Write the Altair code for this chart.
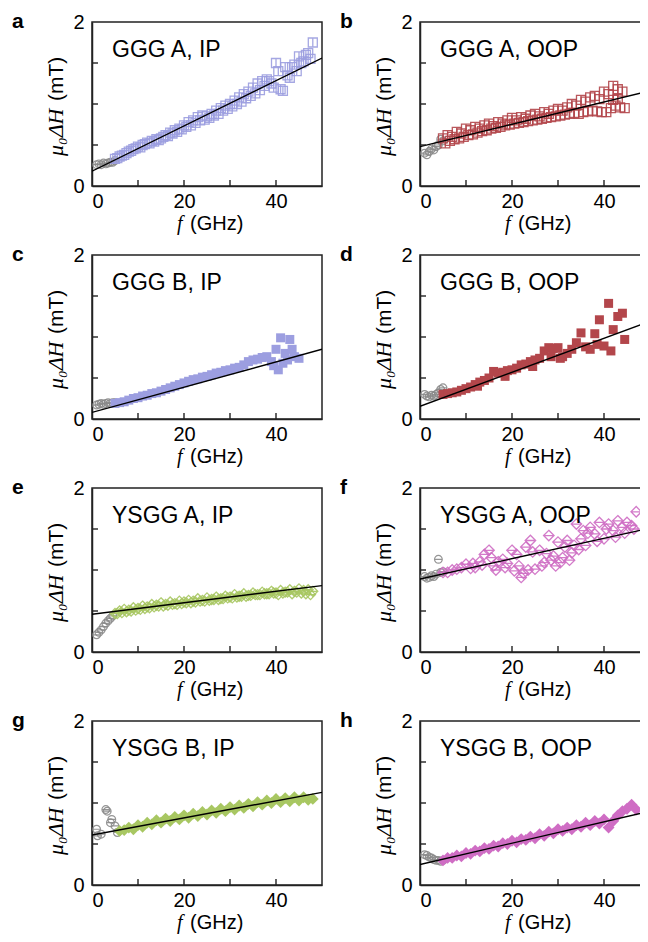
import altair as alt
import pandas as pd

# ---------------- axis tick values ----------------
X_LABELS = [0, 20, 40]
Y_LABELS = [0, 1, 2]
X_TICKS = [10, 20, 30, 40]
Y_TICKS = [0.5, 1.0, 1.5]

# ---------------- panel a : GGG A, IP ----------------
a_gray_f = [1, 1.5, 2, 2.5, 3, 3.5, 4, 4.5, 5]
a_gray_y = [0.26, 0.27, 0.26, 0.28, 0.27, 0.28, 0.29, 0.29, 0.31]
a_f = [5, 5.5, 6, 6.5, 7, 7.5, 8, 8.5, 9, 9.5, 10, 10.5, 11, 11.5, 12, 12.5, 13, 13.5, 14, 14.5,
       15, 15.5, 16, 16.5, 17, 17.5, 18, 18.5, 19, 19.5, 20, 20.5, 21, 21.5, 22, 22.5, 23, 23.5,
       24, 24.5, 25, 25.5, 26, 26.5, 27, 27.5, 28, 28.5, 29, 29.5, 30, 30.5, 31, 31.5, 32, 32.5,
       33, 33.5, 34, 34.5, 35, 35.5, 36, 36.5, 37, 37.5, 38, 38.5, 39, 39.5, 40, 40.5, 41, 41.5,
       42, 42.5, 43, 43.5, 44, 44.5, 45, 45.5, 46, 46.5, 47, 47.5, 48]
a_y = [0.33, 0.34, 0.36, 0.37, 0.38, 0.40, 0.42, 0.43, 0.45, 0.46, 0.48, 0.47, 0.50, 0.51, 0.53, 0.52,
       0.55, 0.54, 0.57, 0.56, 0.58, 0.60, 0.62, 0.61, 0.65, 0.64, 0.68, 0.66, 0.70, 0.69, 0.74, 0.72,
       0.78, 0.74, 0.80, 0.77, 0.84, 0.80, 0.86, 0.81, 0.85, 0.83, 0.88, 0.86, 0.92, 0.88, 0.95, 0.92,
       0.98, 0.94, 1.00, 0.97, 1.04, 1.00, 1.08, 1.03, 1.12, 1.07, 1.15, 1.10, 1.20, 1.13, 1.25, 1.17,
       1.28, 1.22, 1.30, 1.28, 1.25, 1.20, 1.50, 1.40, 1.18, 1.16, 1.45, 1.35, 1.32, 1.45, 1.48, 1.40,
       1.58, 1.50, 1.52, 1.60, 1.62, 1.55, 1.75]
a_fit_f = [0, 50]
a_fit_y = [0.18, 1.56]

# ---------------- panel b : GGG A, OOP ----------------
b_gray_f = [1, 1.5, 2, 2.5, 3, 3.5, 4, 4.5, 5]
b_gray_y = [0.40, 0.38, 0.42, 0.45, 0.44, 0.48, 0.50, 0.57, 0.55]
b_f = [5, 5.5, 6, 6.5, 7, 7.5, 8, 8.5, 9, 9.5, 10, 10.5, 11, 11.5, 12, 12.5, 13, 13.5, 14, 14.5,
       15, 15.5, 16, 16.5, 17, 17.5, 18, 18.5, 19, 19.5, 20, 20.5, 21, 21.5, 22, 22.5, 23, 23.5,
       24, 24.5, 25, 25.5, 26, 26.5, 27, 27.5, 28, 28.5, 29, 29.5, 30, 30.5, 31, 31.5, 32, 32.5,
       33, 33.5, 34, 34.5, 35, 35.5, 36, 36.5, 37, 37.5, 38, 38.5, 39, 39.5, 40, 40.5, 41, 41.5,
       42, 42.5, 43, 43.5, 44, 44.5, 42, 43]
b_y = [0.58, 0.52, 0.62, 0.55, 0.60, 0.57, 0.66, 0.58, 0.64, 0.60, 0.70, 0.62, 0.68, 0.63, 0.72, 0.65,
       0.70, 0.67, 0.74, 0.68, 0.76, 0.70, 0.73, 0.71, 0.78, 0.72, 0.76, 0.74, 0.80, 0.75, 0.83, 0.76,
       0.80, 0.77, 0.84, 0.78, 0.82, 0.79, 0.86, 0.80, 0.88, 0.81, 0.85, 0.82, 0.90, 0.83, 0.88, 0.84,
       0.92, 0.85, 0.94, 0.86, 0.92, 0.87, 0.96, 0.88, 1.00, 0.89, 0.98, 0.88, 1.05, 0.90, 1.03, 0.91,
       1.08, 0.92, 1.10, 0.91, 1.06, 0.90, 1.15, 0.90, 1.12, 0.95, 1.22, 0.98, 1.18, 0.96, 1.15, 0.95,
       1.05, 1.06]
b_fit_f = [0, 50]
b_fit_y = [0.48, 1.16]

# ---------------- panel c : GGG B, IP ----------------
c_gray_f = [1, 1.5, 2, 2.5, 3, 3.5, 4, 4.5, 5]
c_gray_y = [0.17, 0.18, 0.19, 0.18, 0.19, 0.20, 0.19, 0.20, 0.20]
c_f = [5, 6, 7, 8, 9, 10, 11, 12, 13, 14, 15, 16, 17, 18, 19, 20, 21, 22, 23, 24, 25, 26, 27, 28,
       29, 30, 31, 32, 33, 34, 35, 36, 37, 38, 39, 39.5, 40, 40.5, 41, 41.5, 42, 42.5, 43, 43.5, 44, 45]
c_y = [0.19, 0.20, 0.21, 0.23, 0.25, 0.26, 0.28, 0.29, 0.31, 0.32, 0.34, 0.36, 0.38, 0.40, 0.42, 0.44,
       0.46, 0.48, 0.49, 0.51, 0.52, 0.54, 0.56, 0.57, 0.59, 0.60, 0.62, 0.63, 0.66, 0.70, 0.72, 0.73,
       0.75, 0.76, 0.70, 0.65, 0.85, 0.60, 0.99, 0.68, 0.80, 0.72, 0.97, 0.85, 0.76, 0.74]
c_fit_f = [0, 50]
c_fit_y = [0.08, 0.85]

# ---------------- panel d : GGG B, OOP ----------------
d_gray_f = [1, 1.5, 2, 2.5, 3, 3.5, 4, 4.5, 5]
d_gray_y = [0.30, 0.28, 0.27, 0.29, 0.28, 0.30, 0.32, 0.36, 0.38]
d_f = [5, 6, 7, 8, 9, 10, 11, 12, 12.5, 13, 14, 15, 16, 17, 18, 18.5, 19, 20, 21, 22, 23, 24, 24.5,
       25, 26, 27, 28, 28.5, 29, 30, 30.5, 31, 32, 33, 34, 35, 36, 37, 38, 38.5, 39, 40, 41, 41.5,
       42, 43, 44, 44.5]
d_y = [0.30, 0.31, 0.32, 0.33, 0.35, 0.37, 0.39, 0.42, 0.40, 0.45, 0.47, 0.50, 0.58, 0.56, 0.57, 0.52,
       0.59, 0.60, 0.62, 0.66, 0.67, 0.70, 0.64, 0.72, 0.74, 0.83, 0.87, 0.76, 0.86, 0.87, 0.74, 0.76,
       0.80, 0.85, 0.93, 1.05, 0.88, 0.85, 1.04, 0.91, 1.21, 0.89, 1.41, 0.83, 1.09, 1.25, 1.29, 0.97]
d_fit_f = [0, 50]
d_fit_y = [0.155, 1.19]

# ---------------- panel e : YSGG A, IP ----------------
e_gray_f = [1, 1.5, 2, 2.5, 3, 3.5, 4, 4.5]
e_gray_y = [0.21, 0.24, 0.27, 0.31, 0.35, 0.38, 0.41, 0.44]
e_f = [5, 5.5, 6, 6.5, 7, 7.5, 8, 8.5, 9, 9.5, 10, 10.5, 11, 11.5, 12, 12.5, 13, 13.5, 14, 14.5,
       15, 15.5, 16, 16.5, 17, 17.5, 18, 18.5, 19, 19.5, 20, 20.5, 21, 21.5, 22, 22.5, 23, 23.5,
       24, 24.5, 25, 25.5, 26, 26.5, 27, 27.5, 28, 28.5, 29, 29.5, 30, 30.5, 31, 31.5, 32, 32.5,
       33, 33.5, 34, 34.5, 35, 35.5, 36, 36.5, 37, 37.5, 38, 38.5, 39, 39.5, 40, 40.5, 41, 41.5,
       42, 42.5, 43, 43.5, 44, 44.5, 45, 45.5, 46, 46.5, 47, 47.5, 48]
e_y = [0.47, 0.47, 0.50, 0.48, 0.52, 0.49, 0.51, 0.50, 0.54, 0.51, 0.53, 0.52, 0.56, 0.53, 0.55, 0.54,
       0.58, 0.55, 0.57, 0.56, 0.60, 0.56, 0.58, 0.57, 0.61, 0.58, 0.59, 0.58, 0.62, 0.59, 0.61, 0.60,
       0.63, 0.60, 0.62, 0.61, 0.65, 0.62, 0.63, 0.62, 0.66, 0.63, 0.64, 0.64, 0.67, 0.64, 0.65, 0.65,
       0.68, 0.66, 0.67, 0.66, 0.70, 0.67, 0.68, 0.68, 0.71, 0.68, 0.69, 0.69, 0.72, 0.70, 0.70, 0.70,
       0.73, 0.71, 0.71, 0.71, 0.74, 0.72, 0.72, 0.70, 0.75, 0.72, 0.73, 0.73, 0.76, 0.71, 0.74, 0.73,
       0.77, 0.72, 0.75, 0.71, 0.76, 0.70, 0.74]
e_fit_f = [0, 50]
e_fit_y = [0.46, 0.81]

# ---------------- panel f : YSGG A, OOP ----------------
f_gray_f = [1, 1.5, 2, 2.5, 3, 3.5, 4, 4.5, 5]
f_gray_y = [0.92, 0.90, 0.91, 0.93, 0.92, 0.95, 1.13, 0.97, 0.98]
f_f = [5, 6, 7, 8, 9, 10, 11, 11.5, 12, 13, 13.5, 14, 15, 15.5, 16, 16.5, 17, 18, 18.5, 19,
       20, 20.5, 21, 21.5, 22, 22.5, 23, 23.5, 24, 24.5, 25, 26, 26.5, 27, 27.5, 28, 28.5, 29, 29.5, 30,
       30.5, 31, 31.5, 32, 32.5, 33, 33.5, 34, 34.5, 35, 35.5, 36, 36.5, 37, 38, 38.5, 39, 40, 40.5, 41,
       42, 42.5, 43, 44, 44.5, 45, 46, 46.5, 47]
f_y = [0.97, 0.97, 1.00, 1.01, 1.03, 1.07, 1.02, 1.08, 1.03, 1.10, 1.06, 1.19, 1.24, 1.15, 1.05, 1.00,
       1.10, 1.13, 1.03, 1.08, 1.24, 0.99, 1.19, 1.05, 0.91, 0.96, 1.28, 1.00, 1.36, 1.22, 1.01, 1.24,
       1.05, 1.09, 1.20, 1.42, 1.12, 1.17, 1.05, 1.34, 1.09, 1.15, 1.28, 1.36, 1.12, 1.21, 1.30, 1.56,
       1.25, 1.38, 1.48, 1.30, 1.45, 1.52, 1.44, 1.35, 1.58, 1.38, 1.50, 1.56, 1.48, 1.40, 1.60, 1.52,
       1.45, 1.58, 1.54, 1.50, 1.71]
f_fit_f = [0, 50]
f_fit_y = [0.89, 1.51]

# ---------------- panel g : YSGG B, IP ----------------
g_gray_f = [1, 1.2, 2, 3, 3.3, 4, 4.3, 5, 5.5]
g_gray_y = [0.68, 0.60, 0.62, 0.92, 0.90, 0.76, 0.80, 0.72, 0.64]
g_f = [6, 7, 8, 9, 10, 11, 12, 13, 14, 15, 16, 17, 18, 19, 20, 21, 22, 23, 24, 25, 26, 27, 28, 29,
       30, 31, 32, 33, 34, 35, 36, 37, 38, 39, 40, 41, 42, 43, 44, 45, 46, 47, 48]
g_y = [0.66, 0.67, 0.70, 0.68, 0.73, 0.71, 0.76, 0.74, 0.79, 0.76, 0.81, 0.78, 0.83, 0.80, 0.85, 0.82,
       0.87, 0.84, 0.89, 0.86, 0.91, 0.88, 0.93, 0.90, 0.95, 0.92, 0.97, 0.94, 0.99, 0.96, 1.01, 0.98,
       1.03, 1.00, 1.05, 1.01, 1.06, 1.02, 1.07, 1.03, 1.07, 1.04, 1.05]
g_fit_f = [0, 50]
g_fit_y = [0.61, 1.13]

# ---------------- panel h : YSGG B, OOP ----------------
h_gray_f = [1, 1.5, 2, 2.5, 3, 3.5, 4, 4.5, 5]
h_gray_y = [0.37, 0.36, 0.34, 0.33, 0.31, 0.30, 0.30, 0.29, 0.30]
h_f = [5, 6, 7, 8, 9, 10, 11, 12, 13, 14, 15, 16, 17, 18, 19, 20, 21, 22, 23, 24, 25, 26, 27, 28,
       29, 30, 31, 32, 33, 34, 35, 36, 37, 38, 39, 40, 41, 42, 43, 44, 45, 46, 47]
h_y = [0.30, 0.33, 0.33, 0.36, 0.35, 0.39, 0.38, 0.42, 0.41, 0.45, 0.44, 0.48, 0.47, 0.51, 0.50, 0.54,
       0.52, 0.56, 0.55, 0.59, 0.57, 0.62, 0.60, 0.65, 0.63, 0.68, 0.66, 0.70, 0.68, 0.73, 0.71, 0.76,
       0.73, 0.78, 0.75, 0.80, 0.70, 0.78, 0.85, 0.90, 0.93, 0.98, 0.92]
h_fit_f = [0, 50]
h_fit_y = [0.25, 0.90]

# ---------------- styling ----------------
SANS = "Liberation Sans, Arial, Helvetica, sans-serif"
SERIF = "Liberation Serif, DejaVu Serif, Times New Roman, serif"
LAV = "#9c9ee0"
RED = "#b3464b"
GRN = "#a8c762"
PNK = "#cf6dc4"
GRY = "#8a8a8a"
W, H = 230, 164

SQ_OPEN = "M-1,-1H1V1H-1Z M0,-1V1"
DIA_OPEN = "M0,-1L1,0L0,1L-1,0Z M-1,0H1"
CIRC_OPEN = "M-1,0A1,1,0,1,1,1,0A1,1,0,1,1,-1,0Z M-1,0H1"

xs = alt.Scale(domain=[0, 50], nice=False, zero=False)
ys = alt.Scale(domain=[0, 2], nice=False, zero=False)
xax = alt.Axis(values=X_LABELS, format="d", ticks=False, grid=False, labelFontSize=20, labelFont=SANS,
               labelColor="black", labelPadding=5, domainColor="#222", domainWidth=1.5, title=None)
yax = alt.Axis(values=Y_LABELS, format="d", ticks=False, grid=False, labelFontSize=20, labelFont=SANS,
               labelColor="black", labelPadding=8, domainColor="#222", domainWidth=1.5, title=None)
X = alt.X("f:Q", scale=xs, axis=xax)
Y = alt.Y("w:Q", scale=ys, axis=yax)


def panel(letter, label, gf, gy, mf, my, ff, fy, color, shape, filled, size):
    gray = alt.Chart(pd.DataFrame({"f": gf, "w": gy})).mark_point(
        shape=CIRC_OPEN, filled=False, color=GRY, size=60, strokeWidth=1.2, opacity=0.9
    ).encode(x=X, y=Y)
    if filled:
        main = alt.Chart(pd.DataFrame({"f": mf, "w": my})).mark_point(
            shape=shape, filled=True, color=color, size=size, opacity=1, strokeWidth=0
        ).encode(x=X, y=Y)
    else:
        main = alt.Chart(pd.DataFrame({"f": mf, "w": my})).mark_point(
            shape=shape, filled=False, color=color, size=size, strokeWidth=1.3, opacity=0.9
        ).encode(x=X, y=Y)
    fit = alt.Chart(pd.DataFrame({"f": ff, "w": fy})).mark_line(
        color="black", strokeWidth=1.4, clip=True
    ).encode(x=X, y=Y)
    xt = alt.Chart(pd.DataFrame({"f": X_TICKS})).mark_rule(color="#222", strokeWidth=1.4).encode(
        x=X, y=alt.value(H), y2=alt.value(H - 6))
    yt = alt.Chart(pd.DataFrame({"w": Y_TICKS})).mark_rule(color="#222", strokeWidth=1.4).encode(
        y=Y, x=alt.value(0), x2=alt.value(6))
    lab = alt.Chart(pd.DataFrame({"s": [label]})).mark_text(
        align="left", baseline="alphabetic", fontSize=23, font=SANS, color="black"
    ).encode(text="s:N", x=alt.value(20), y=alt.value(35))
    let = alt.Chart(pd.DataFrame({"s": [letter]})).mark_text(
        align="left", baseline="alphabetic", fontSize=21, font=SANS, fontWeight="bold", color="black"
    ).encode(text="s:N", x=alt.value(-80), y=alt.value(6))
    xt1 = alt.Chart(pd.DataFrame({"s": ["f"]})).mark_text(
        align="left", baseline="alphabetic", fontSize=20, font=SERIF, fontStyle="italic", color="black"
    ).encode(text="s:N", x=alt.value(85), y=alt.value(H + 44))
    xt2 = alt.Chart(pd.DataFrame({"s": ["(GHz)"]})).mark_text(
        align="left", baseline="alphabetic", fontSize=20, font=SANS, color="black"
    ).encode(text="s:N", x=alt.value(98), y=alt.value(H + 44))
    yt1 = alt.Chart(pd.DataFrame({"s": ["μ₀ΔH"]})).mark_text(
        align="left", baseline="alphabetic", angle=270, fontSize=22, font=SERIF, fontStyle="italic",
        color="black"
    ).encode(text="s:N", x=alt.value(-29), y=alt.value(134))
    yt2 = alt.Chart(pd.DataFrame({"s": ["(mT)"]})).mark_text(
        align="left", baseline="alphabetic", angle=270, fontSize=21, font=SANS, color="black"
    ).encode(text="s:N", x=alt.value(-29), y=alt.value(79))
    return alt.layer(gray, main, fit, xt, yt, lab, let, xt1, xt2, yt1, yt2).properties(
        width=W, height=H)


panels = [
    panel("a", "GGG A, IP", a_gray_f, a_gray_y, a_f, a_y, a_fit_f, a_fit_y, LAV, SQ_OPEN, False, 81),
    panel("b", "GGG A, OOP", b_gray_f, b_gray_y, b_f, b_y, b_fit_f, b_fit_y, RED, SQ_OPEN, False, 81),
    panel("c", "GGG B, IP", c_gray_f, c_gray_y, c_f, c_y, c_fit_f, c_fit_y, LAV, "square", True, 81),
    panel("d", "GGG B, OOP", d_gray_f, d_gray_y, d_f, d_y, d_fit_f, d_fit_y, RED, "square", True, 81),
    panel("e", "YSGG A, IP", e_gray_f, e_gray_y, e_f, e_y, e_fit_f, e_fit_y, GRN, DIA_OPEN, False, 100),
    panel("f", "YSGG A, OOP", f_gray_f, f_gray_y, f_f, f_y, f_fit_f, f_fit_y, PNK, DIA_OPEN, False, 110),
    panel("g", "YSGG B, IP", g_gray_f, g_gray_y, g_f, g_y, g_fit_f, g_fit_y, GRN, "diamond", True, 140),
    panel("h", "YSGG B, OOP", h_gray_f, h_gray_y, h_f, h_y, h_fit_f, h_fit_y, PNK, "diamond", True, 140),
]

chart = alt.concat(*panels, columns=2, spacing={"row": 69, "column": 98}, bounds="flush").properties(
    autosize=alt.AutoSizeParams(type="none"),
    padding={"left": 84, "top": 14, "right": 548, "bottom": 912}
).configure_view(stroke="#222", strokeWidth=1.5)

chart.save("out.html", embed_options={"renderer": "svg", "actions": False})
